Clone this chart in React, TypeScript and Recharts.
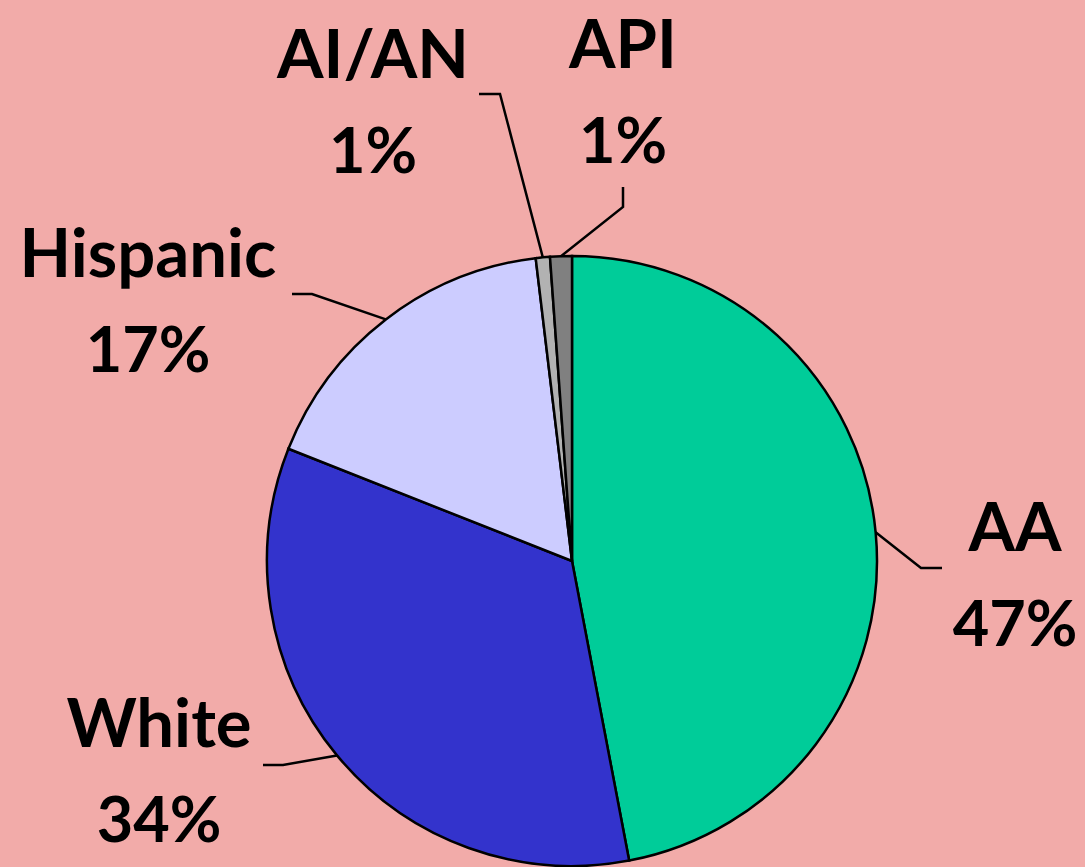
import { PieChart, Pie, Cell } from 'recharts'

// 人種構成（%）
const groups = ['AA', 'White', 'Hispanic', 'AI/AN', 'API']
const shares = [47.0, 34.0, 17.1, 0.75, 1.15]
const sliceColors = ['#00CC99', '#3333CC', '#CCCCFF', '#B2B2B2', '#808080']

const data = groups.map((name, i) => ({ name, value: shares[i] }))

// ラベル配置（円の中心からのオフセット）
const labelLayout: Record<string, { elbow: [number, number]; end: [number, number]; text: [number, number] }> = {
  AA: { elbow: [349, 7], end: [370, 7], text: [443, -10] },
  White: { elbow: [-289, 204], end: [-309, 204], text: [-413, 186] },
  Hispanic: { elbow: [-260, -267], end: [-280, -267], text: [-424, -284] },
  'AI/AN': { elbow: [-72, -467], end: [-93, -467], text: [-199, -483] },
  API: { elbow: [51, -354], end: [51, -374], text: [51, -493] },
}

const RAD = Math.PI / 180
const FONT = 'Lato, "Open Sans", sans-serif'

function renderLabel(props: any) {
  const { cx, cy, midAngle, outerRadius, name, value } = props
  const lay = labelLayout[name]
  if (!lay) return null
  const sx = cx + outerRadius * Math.cos(-midAngle * RAD)
  const sy = cy + outerRadius * Math.sin(-midAngle * RAD)
  const ex = cx + lay.elbow[0]
  const ey = cy + lay.elbow[1]
  const tx = cx + lay.text[0]
  const ty = cy + lay.text[1]
  return (
    <g>
      <polyline
        points={`${sx},${sy} ${ex},${ey} ${cx + lay.end[0]},${cy + lay.end[1]}`}
        fill="none"
        stroke="#000"
        strokeWidth={2.5}
      />
      <text x={tx} y={ty} textAnchor="middle" fontFamily={FONT} fontWeight={700} fontSize={67} fill="#000">
        {name}
      </text>
      <text x={tx} y={ty + 95} textAnchor="middle" fontFamily={FONT} fontWeight={700} fontSize={63} fill="#000">
        {`${Math.round(value)}%`}
      </text>
    </g>
  )
}

export default function App() {
  return (
    <div style={{ position: 'absolute', left: 0, top: 0, width: 1085, height: 867, background: '#F2ABA9' }}>
      <PieChart width={1085} height={867} margin={{ top: 0, right: 0, bottom: 0, left: 0 }}>
        <Pie
          data={data}
          dataKey="value"
          nameKey="name"
          cx={572}
          cy={561}
          outerRadius={305}
          startAngle={90}
          endAngle={-270}
          stroke="#000"
          strokeWidth={2.5}
          label={renderLabel}
          labelLine={false}
          isAnimationActive={false}
        >
          {data.map((entry, index) => (
            <Cell key={`cell-${index}`} fill={sliceColors[index]} />
          ))}
        </Pie>
      </PieChart>
    </div>
  )
}
